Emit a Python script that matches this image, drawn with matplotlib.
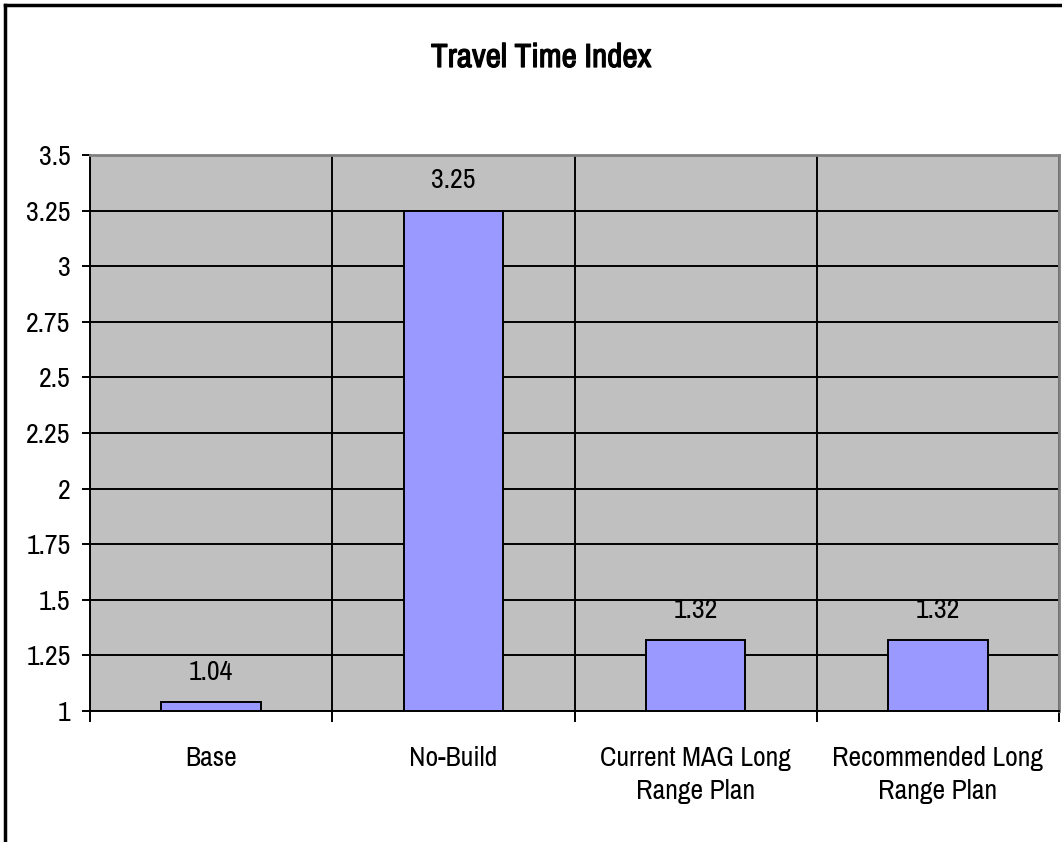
import matplotlib.pyplot as plt
import matplotlib.patheffects as pe
import numpy as np
from matplotlib.lines import Line2D

# travel time index per scenario
categories = ['Base', 'No-Build', 'Current MAG Long\nRange Plan', 'Recommended Long\nRange Plan']
values = [1.04, 3.25, 1.32, 1.32]
yticks = [1, 1.25, 1.5, 1.75, 2, 2.25, 2.5, 2.75, 3, 3.25, 3.5]
ytick_labels = ['1', '1.25', '1.5', '1.75', '2', '2.25', '2.5', '2.75', '3', '3.25', '3.5']

# narrow Arial-like faces first, plain sans as last resort
plt.rcParams['font.family'] = ['Liberation Sans Narrow', 'Arial Narrow', 'Nimbus Sans Narrow',
                               'Archivo Narrow', 'PT Sans Narrow', 'Roboto Condensed',
                               'Liberation Sans', 'DejaVu Sans']

fig = plt.figure(figsize=(10.62, 8.42), dpi=100)
ax = fig.add_axes([90 / 1062, 131 / 842, 969 / 1062, 556 / 842])
ax.set_facecolor('#c0c0c0')

x = np.arange(len(categories))
ax.bar(x, [v - 1 for v in values], bottom=1, width=0.41,
       color='#9999ff', edgecolor='black', linewidth=1.4, zorder=3)

for xi, v in zip(x, values):
    ax.annotate(f'{v:.2f}', (xi, v), xytext=(0, 16), textcoords='offset points',
                ha='center', va='baseline', fontsize=20, zorder=4)

ax.set_xlim(-0.5, len(categories) - 0.5)
ax.set_ylim(1, 3.5)
ax.set_yticks(yticks)
ax.set_yticklabels(ytick_labels, fontsize=20)

# categories sit between ticks; ticks/vertical lines on the boundaries
ax.set_xticks(x)
ax.set_xticklabels(categories, fontsize=20, linespacing=1.4)
ax.tick_params(axis='x', which='major', length=0, pad=25)
ax.set_xticks(np.arange(-0.5, len(categories)), minor=True)
ax.tick_params(axis='x', which='minor', length=8, width=1.4, direction='out')
ax.tick_params(axis='y', length=6, width=1.4, pad=8)

ax.grid(axis='y', color='black', linewidth=1.4, zorder=1)
ax.grid(axis='x', which='minor', color='black', linewidth=1.4, zorder=1)
ax.set_axisbelow(True)

for side in ['left', 'bottom']:
    ax.spines[side].set_color('black')
    ax.spines[side].set_linewidth(1.4)
for side in ['top', 'right']:
    ax.spines[side].set_color('#808080')
    ax.spines[side].set_linewidth(2)

# the narrow face has no bold cut, so thicken the title with a thin stroke
fig.text(541 / 1062, 1 - 58 / 842, 'Travel Time Index', ha='center', va='center',
         fontsize=24, fontweight='bold',
         path_effects=[pe.withStroke(linewidth=0.9, foreground='black')])

# outer chart frame (runs off the right and bottom edges)
fig.add_artist(Line2D([5 / 1062, 1.0], [1 - 5 / 842, 1 - 5 / 842], color='black', linewidth=2.5,
                      transform=fig.transFigure))
fig.add_artist(Line2D([5 / 1062, 5 / 1062], [0.0, 1 - 5 / 842], color='black', linewidth=2.5,
                      transform=fig.transFigure))

fig.savefig('out.png', dpi=100)
